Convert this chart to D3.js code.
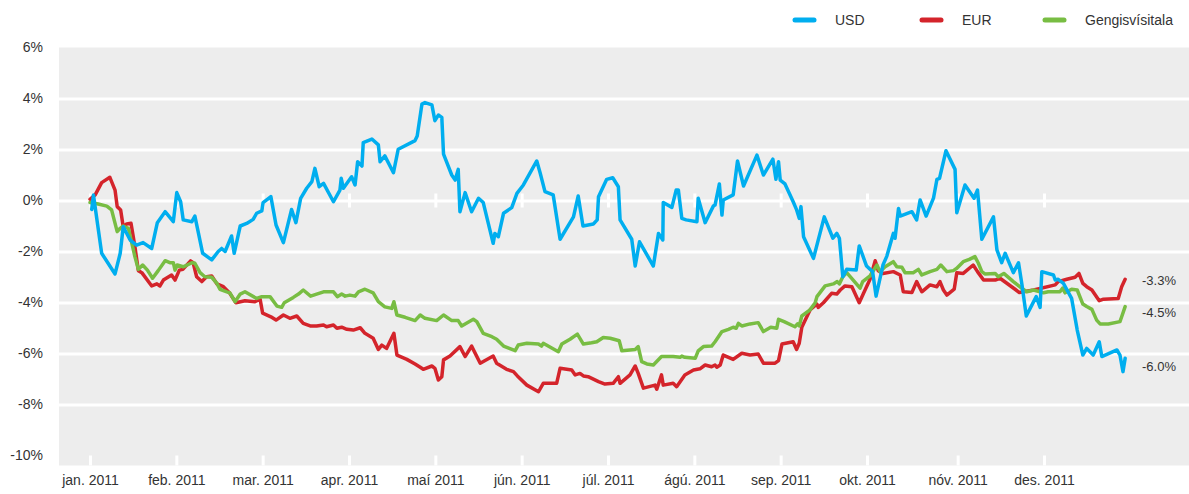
<!DOCTYPE html>
<html>
<head>
<meta charset="utf-8">
<script src="https://cdn.jsdelivr.net/npm/d3@7"></script>
<style>
  body { margin: 0; background: #fff; }
  text { font-family: "Liberation Sans", Arial, sans-serif; fill: #333; }
</style>
</head>
<body>
<div id="container"></div>
<script>
/* CONSTANTS AND GLOBALS */
const width = 1189,
  height = 494,
  margin = { top: 47.5, bottom: 28.5, left: 59, right: 63 };

// x is counted in trading days from the start of the year
const monthLabels = ["jan. 2011", "feb. 2011", "mar. 2011", "apr. 2011", "maí 2011", "jún. 2011",
  "júl. 2011", "ágú. 2011", "sep. 2011", "okt. 2011", "nóv. 2011", "des. 2011"];
const monthStart = [0, 20, 40, 60, 80, 100, 120, 140, 160, 180, 201, 221];
const lastDay = 240;

const yTicks = [6, 4, 2, 0, -2, -4, -6, -8, -10];
const gridTicks = [4, 2, 0, -2, -4, -6, -8];

const seriesNames = ["USD", "EUR", "Gengisvísitala"];
const seriesColors = ["#00aeef", "#d4242b", "#78bd43"];
const endLabels = ["-6.0%", "-3.3%", "-4.5%"];
const endLabelAt = [-6.5, -3.15, -4.4]; // where the labels sit, in %

// [trading day, % change]
const usd = [[0.4,-0.35],[0.8,0.22],[2.7,-2.07],[5.8,-2.88],[7.0,-2.07],[7.7,-1.03],[9.3,-1.55],[10.8,-1.75],[12.3,-1.65],[14.3,-1.88],[15.6,-0.87],[17.4,-0.44],[19.3,-0.83],[20.1,0.31],[21.0,-0.05],[21.6,-0.76],[23.6,-0.83],[24.3,-0.61],[26.1,-2.07],[28.2,-2.33],[29.7,-2.0],[30.5,-1.88],[31.3,-2.0],[32.8,-1.39],[33.4,-2.07],[34.8,-1.0],[36.3,-0.9],[37.8,-0.74],[38.6,-0.5],[39.8,-0.41],[40.1,-0.08],[41.9,0.15],[43.1,-0.96],[44.8,-1.65],[46.7,-0.35],[47.7,-0.87],[48.8,0.08],[50.2,0.48],[51.4,0.74],[52.1,1.26],[53.1,0.54],[54.1,0.67],[56.4,-0.05],[57.9,0.41],[58.2,0.87],[58.7,0.48],[60.6,0.93],[61.4,0.61],[62.0,1.52],[63.0,1.35],[63.3,2.27],[65.3,2.41],[66.8,2.18],[67.2,1.52],[68.3,1.75],[70.3,1.09],[71.4,2.01],[75.3,2.35],[75.8,2.53],[76.9,3.78],[77.6,3.84],[79.2,3.75],[79.9,3.13],[80.7,3.35],[81.5,3.26],[81.9,1.82],[83.8,1.0],[84.6,0.8],[85.3,1.22],[85.7,-0.44],[86.9,0.31],[88.4,-0.44],[90.0,0.09],[91.1,-0.08],[93.4,-1.68],[93.8,-1.29],[94.6,-1.42],[95.8,-0.5],[97.7,-0.28],[98.9,0.28],[100.4,0.61],[103.5,1.55],[104.3,1.07],[105.4,0.35],[107.3,0.22],[108.9,-1.52],[112.0,-0.64],[113.1,0.18],[114.2,-1.0],[116.6,-0.92],[117.5,-0.76],[117.8,0.15],[119.7,0.83],[121.1,0.89],[122.4,0.54],[122.8,-0.76],[125.5,-1.52],[126.3,-2.57],[127.3,-1.62],[130.5,-2.57],[131.7,-1.29],[132.7,-1.55],[132.8,-0.08],[134.8,-0.27],[135.8,0.41],[136.3,0.41],[137.1,-0.7],[138.1,-0.76],[140.6,-0.83],[140.9,0.09],[142.5,-0.87],[144.4,-0.22],[144.8,-0.18],[145.8,0.65],[146.4,-0.57],[146.7,0.02],[149.0,0.22],[150.0,1.55],[151.4,0.57],[154.5,1.78],[156.0,1.0],[158.2,1.62],[158.9,0.83],[159.5,1.52],[159.9,0.8],[161.0,0.65],[162.9,-0.05],[163.7,-0.37],[164.3,-0.7],[164.7,-0.24],[165.3,-1.42],[167.6,-2.27],[170.1,-0.64],[172.1,-1.48],[173.0,-1.29],[173.6,-1.48],[174.4,-2.99],[175.3,-2.7],[177.5,-2.73],[178.2,-1.78],[179.9,-2.57],[181.3,-2.79],[182.1,-3.75],[183.7,-2.53],[184.6,-2.18],[186.1,-1.29],[186.5,-1.48],[187.3,-0.31],[187.7,-0.61],[190.4,-0.44],[191.5,-0.76],[192.3,0.02],[193.7,-0.61],[195.4,0.09],[196.2,0.83],[196.8,0.87],[198.3,1.95],[200.4,1.22],[200.8,-0.48],[202.7,0.61],[204.8,0.09],[205.6,0.41],[206.6,-1.52],[209.3,-0.64],[210.1,-1.94],[211.2,-2.44],[212.0,-2.07],[213.9,-2.83],[215.1,-2.44],[215.9,-3.3],[216.9,-4.53],[219.2,-3.77],[220.1,-4.19],[220.5,-2.79],[223.2,-2.92],[223.6,-3.12],[224.3,-3.09],[225.5,-3.25],[227.4,-3.84],[228.7,-5.08],[230.0,-6.06],[230.9,-5.8],[232.4,-6.06],[233.8,-5.54],[234.4,-6.12],[237.9,-5.86],[238.6,-6.06],[239.3,-6.71],[239.8,-6.19]];

const eur = [[0,0.05],[1.2,0.22],[2.7,0.7],[4.6,0.91],[5.8,0.41],[6.3,-0.24],[7.1,-0.37],[7.7,-1.03],[8.5,-0.92],[9.5,-0.89],[10.4,-1.81],[11.2,-2.75],[12.0,-2.83],[14.3,-3.35],[15.5,-3.27],[16.2,-3.35],[17.0,-3.12],[18.9,-2.92],[19.7,-3.12],[20.7,-2.73],[21.5,-2.7],[23.3,-2.37],[23.9,-2.44],[24.7,-2.99],[25.9,-3.18],[27.0,-2.99],[28.2,-2.96],[29.4,-3.27],[30.9,-3.38],[32.4,-3.64],[33.8,-4.01],[35.9,-3.93],[38.2,-3.97],[39.4,-3.87],[40.0,-4.42],[41.9,-4.56],[43.1,-4.69],[44.8,-4.49],[46.3,-4.62],[47.9,-4.53],[49.4,-4.82],[51.0,-4.92],[52.5,-4.92],[54.1,-4.88],[54.8,-4.95],[56.4,-4.88],[57.2,-5.01],[58.3,-4.97],[59.5,-5.05],[61.0,-5.08],[62.6,-4.99],[63.7,-5.21],[65.6,-5.4],[66.8,-5.84],[67.6,-5.67],[68.7,-5.8],[70.4,-5.21],[71.1,-6.06],[73.4,-6.23],[75.3,-6.41],[76.5,-6.54],[77.2,-6.62],[79.2,-6.49],[79.9,-6.58],[80.7,-7.04],[81.5,-6.91],[81.9,-6.25],[83.4,-6.1],[85.7,-5.73],[86.9,-6.12],[88.4,-5.71],[90.4,-6.38],[93.4,-6.1],[94.2,-6.38],[96.5,-6.62],[98.1,-6.71],[99.0,-6.88],[101.2,-7.24],[103.9,-7.5],[105.0,-7.17],[108.1,-7.17],[108.9,-6.58],[111.6,-6.65],[112.4,-6.84],[113.5,-6.78],[114.3,-6.88],[115.4,-6.91],[117.8,-7.1],[119.3,-7.2],[121.2,-7.17],[122.4,-6.91],[122.8,-7.17],[125.1,-6.84],[126.3,-6.49],[127.0,-6.78],[128.2,-7.36],[130.9,-7.24],[131.3,-7.4],[132.4,-6.84],[132.8,-7.24],[135.1,-7.17],[135.9,-7.3],[137.8,-6.84],[139.8,-6.65],[141.3,-6.6],[142.5,-6.45],[144.0,-6.52],[144.8,-6.45],[145.2,-6.54],[146.0,-6.45],[146.7,-6.06],[149.0,-6.23],[151.0,-5.99],[152.9,-6.06],[154.8,-6.02],[156.0,-6.38],[158.7,-6.38],[159.5,-6.28],[160.3,-5.63],[162.9,-5.54],[163.7,-5.84],[164.3,-5.6],[164.9,-4.97],[166.8,-4.29],[168.4,-4.06],[168.7,-4.19],[169.9,-4.01],[171.8,-3.64],[173.0,-3.67],[173.8,-3.51],[174.9,-3.35],[176.5,-3.38],[178.2,-4.01],[179.2,-3.64],[180.7,-3.09],[181.9,-2.36],[182.6,-2.75],[183.7,-2.86],[186.1,-2.79],[187.7,-2.92],[188.4,-3.58],[190.4,-3.61],[191.5,-3.18],[192.7,-3.58],[194.6,-3.31],[196.2,-3.38],[196.9,-3.18],[197.7,-3.51],[198.5,-3.71],[200.2,-3.48],[200.8,-2.83],[202.3,-2.86],[204.6,-2.53],[205.6,-2.79],[207.0,-3.12],[209.7,-3.12],[210.8,-3.05],[214.3,-3.48],[215.3,-3.61],[218.6,-3.51],[223.6,-3.31],[224.3,-3.18],[226.3,-3.09],[228.2,-3.01],[229.1,-2.86],[230.0,-3.25],[230.9,-3.38],[232.1,-3.51],[233.8,-3.93],[234.8,-3.87],[238.2,-3.84],[239.0,-3.38],[239.8,-3.09]];

const gengi = [[0,-0.08],[1.9,-0.14],[3.9,-0.22],[5.0,-0.37],[6.3,-1.22],[7.0,-1.09],[7.7,-1.0],[8.9,-1.09],[9.7,-1.68],[10.4,-2.2],[11.2,-2.7],[12.2,-2.53],[13.3,-2.73],[14.5,-3.05],[15.8,-2.75],[17.4,-2.36],[18.5,-2.44],[19.3,-2.44],[19.7,-2.73],[20.2,-2.53],[21.6,-2.6],[23.6,-2.44],[24.3,-2.46],[25.5,-2.83],[26.6,-2.99],[28.2,-3.01],[29.4,-3.25],[30.1,-3.48],[31.7,-3.58],[32.4,-3.62],[33.6,-3.97],[34.8,-3.67],[35.9,-3.58],[38.6,-3.84],[39.8,-3.77],[41.7,-3.77],[43.3,-4.14],[44.4,-4.19],[45.0,-4.01],[47.1,-3.8],[48.3,-3.67],[49.4,-3.51],[51.1,-3.75],[52.5,-3.67],[54.1,-3.58],[56.4,-3.58],[57.3,-3.77],[58.3,-3.67],[59.1,-3.75],[60.2,-3.71],[61.4,-3.75],[62.2,-3.58],[63.7,-3.48],[65.6,-3.62],[66.8,-3.97],[68.3,-4.17],[69.9,-4.23],[70.4,-3.97],[71.1,-4.49],[73.0,-4.58],[75.3,-4.71],[76.5,-4.49],[77.6,-4.62],[80.3,-4.71],[81.9,-4.49],[83.8,-4.71],[85.3,-4.71],[86.1,-4.92],[86.9,-4.84],[88.8,-4.66],[89.6,-4.75],[91.1,-5.21],[93.1,-5.34],[94.2,-5.44],[95.8,-5.71],[98.5,-5.89],[99.2,-5.67],[101.2,-5.6],[103.9,-5.63],[104.6,-5.71],[105.0,-5.6],[108.5,-5.93],[109.3,-5.63],[111.2,-5.44],[112.9,-5.24],[114.3,-5.63],[116.2,-5.58],[117.4,-5.54],[118.9,-5.37],[120.5,-5.4],[122.6,-5.5],[123.2,-5.89],[126.3,-5.84],[127.0,-5.73],[127.8,-6.32],[129.0,-6.41],[130.5,-6.45],[132.4,-6.12],[135.1,-6.12],[136.7,-6.15],[137.1,-6.1],[137.8,-6.15],[140.2,-6.19],[140.9,-5.9],[142.1,-5.73],[144.0,-5.71],[144.8,-5.54],[146.4,-5.14],[147.9,-5.05],[149.0,-4.97],[149.7,-5.01],[150.2,-4.82],[151.0,-4.92],[152.9,-4.84],[154.8,-4.79],[156.0,-5.14],[157.7,-4.97],[159.1,-5.01],[159.5,-4.66],[160.8,-4.75],[163.3,-4.95],[163.9,-4.84],[164.3,-4.92],[164.9,-4.53],[166.8,-4.29],[168.0,-4.01],[168.4,-3.77],[170.3,-3.35],[172.2,-3.27],[173.1,-3.18],[173.6,-3.27],[174.4,-2.99],[175.3,-2.83],[176.8,-3.12],[178.4,-3.44],[179.0,-3.18],[180.7,-2.96],[182.3,-2.53],[183.0,-2.79],[184.2,-2.6],[186.1,-2.4],[186.9,-2.6],[188.1,-2.62],[188.8,-2.83],[190.7,-2.83],[191.9,-2.7],[192.7,-2.92],[194.6,-2.79],[196.2,-2.7],[197.1,-2.53],[198.5,-2.79],[200.0,-2.75],[200.8,-2.66],[202.3,-2.4],[203.7,-2.31],[205.0,-2.2],[205.8,-2.46],[206.6,-2.79],[207.3,-2.88],[209.7,-2.86],[210.4,-2.99],[211.7,-2.86],[213.9,-3.18],[215.6,-3.41],[217.0,-3.58],[218.6,-3.51],[220.9,-3.62],[222.0,-3.58],[224.7,-3.58],[225.3,-3.44],[225.9,-3.62],[227.4,-3.48],[228.7,-3.51],[230.0,-4.06],[230.9,-4.16],[232.1,-4.27],[233.2,-4.69],[234.0,-4.84],[235.9,-4.84],[238.6,-4.75],[239.0,-4.56],[239.8,-4.16]];

let xScale, yScale;

/* APPLICATION STATE */
let state = {
  series: [],
};

/* INITIALIZING FUNCTION */
function init() {
  state.series = [usd, eur, gengi].map((values, i) => ({
    name: seriesNames[i],
    color: seriesColors[i],
    values: values,
    label: endLabels[i],
    labelAt: endLabelAt[i]
  }));

  // x - trading day index, first day of the year at the jan. tick
  xScale = d3.scaleLinear()
    .domain([0, lastDay])
    .range([90, width - margin.right]);

  // y - % change (grey area runs 10px below -10%)
  yScale = d3.scaleLinear()
    .domain([-10, 6])
    .range([height - margin.bottom - 10, margin.top]);

  draw();
}

/* DRAW FUNCTION */
function draw() {
  const svg = d3.select("#container")
    .append("svg")
    .attr("width", width)
    .attr("height", height);

  const plotBottom = height - margin.bottom;

  // grey plot background
  svg.append("rect")
    .attr("x", margin.left)
    .attr("y", yScale(6))
    .attr("width", width - margin.left)
    .attr("height", plotBottom - yScale(6))
    .attr("fill", "#ededed");

  // white gridlines
  svg.append("g")
    .attr("transform", `translate(${margin.left},0)`)
    .call(d3.axisLeft(yScale).tickValues(gridTicks).tickSize(-(width - margin.left)).tickFormat(""))
    .call(g => g.select(".domain").remove())
    .call(g => g.selectAll("line").attr("stroke", "#fff").attr("stroke-width", 3));

  // y axis labels
  svg.append("g")
    .attr("transform", `translate(${margin.left},0)`)
    .call(d3.axisLeft(yScale).tickValues(yTicks).tickSize(0).tickPadding(16).tickFormat(d => d + "%"))
    .call(g => g.select(".domain").remove())
    .call(g => g.selectAll("text").attr("font-size", 14).attr("fill", "#333")
      .style("font-family", '"Liberation Sans", Arial, sans-serif'));

  // month ticks crossing the 0% line
  svg.append("g")
    .attr("transform", `translate(0,${yScale(0) - 7})`)
    .call(d3.axisBottom(xScale).tickValues(monthStart).tickSize(14).tickFormat(""))
    .call(g => g.select(".domain").remove())
    .call(g => g.selectAll("line").attr("stroke", "#fff").attr("stroke-width", 3));

  // x axis at the bottom
  svg.append("g")
    .attr("transform", `translate(0,${plotBottom})`)
    .call(d3.axisBottom(xScale).tickValues(monthStart).tickSizeInner(-10).tickSizeOuter(0).tickPadding(10)
      .tickFormat((d, i) => monthLabels[i]))
    .call(g => g.select(".domain").remove())
    .call(g => g.selectAll("line").attr("stroke", "#fff").attr("stroke-width", 3))
    .call(g => g.selectAll("text").attr("font-size", 14).attr("fill", "#333")
      .style("font-family", '"Liberation Sans", Arial, sans-serif'));

  // lines
  const line = d3.line()
    .x(d => xScale(d[0]))
    .y(d => yScale(d[1]));

  const drawOrder = [1, 2, 0]; // EUR, index, USD on top
  svg.selectAll("path.series")
    .data(drawOrder.map(i => state.series[i]))
    .join("path")
    .attr("class", "series")
    .attr("d", d => line(d.values))
    .attr("fill", "none")
    .attr("stroke", d => d.color)
    .attr("stroke-width", 3.5)
    .attr("stroke-linejoin", "round")
    .attr("stroke-linecap", "round");

  // end labels
  svg.selectAll("text.endlabel")
    .data(state.series)
    .join("text")
    .attr("class", "endlabel")
    .attr("x", xScale(lastDay) + 16)
    .attr("y", d => yScale(d.labelAt))
    .attr("dy", "0.35em")
    .attr("font-size", 13)
    .text(d => d.label);

  // legend
  const legendX = [793, 920, 1043];
  const legend = svg.selectAll("g.legend")
    .data(state.series)
    .join("g")
    .attr("class", "legend")
    .attr("transform", (d, i) => `translate(${legendX[i]},20)`);

  legend.append("line")
    .attr("x1", 2).attr("x2", 21)
    .attr("stroke", d => d.color)
    .attr("stroke-width", 5)
    .attr("stroke-linecap", "round");

  legend.append("text")
    .attr("x", 42)
    .attr("dy", "0.35em")
    .attr("font-size", 14)
    .text(d => d.name);
}

init();
</script>
</body>
</html>
